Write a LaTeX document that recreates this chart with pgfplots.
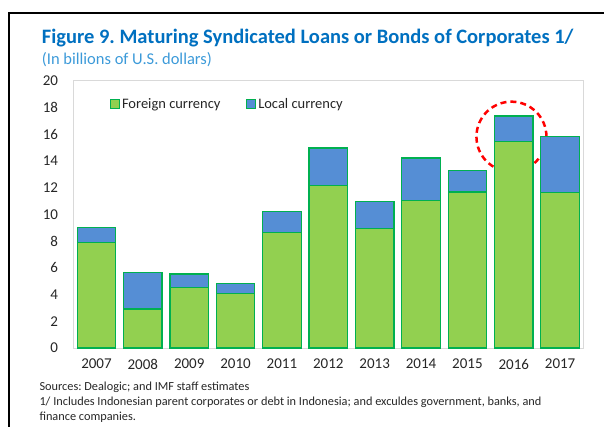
\documentclass[border=0pt]{standalone}
\usepackage{fontspec}
\setmainfont{Carlito}
\usepackage{pgfplots}
\pgfplotsset{compat=1.18}
\definecolor{fgreen}{HTML}{92D050}
\definecolor{edgegreen}{HTML}{00B050}
\definecolor{lblue}{HTML}{558ED5}
\definecolor{titleblue}{HTML}{0070C0}
\definecolor{subblue}{HTML}{3C9AD9}
\definecolor{boxgray}{HTML}{D9D9D9}
\definecolor{txt}{HTML}{262626}
\frenchspacing

\begin{document}
\begin{tikzpicture}
\useasboundingbox (0,0) rectangle (604pt,-427pt);
% frame
\draw[black, line width=2pt] (8.5pt,-430pt) -- (8.5pt,-12.7pt) -- (606pt,-12.7pt);
% titles
\node[anchor=base west, inner sep=0, text=titleblue, font=\fontsize{20.5}{24}\selectfont\bfseries] at (41.7pt,-44pt)
  {Figure 9. Maturing Syndicated Loans or Bonds of Corporates 1/};
\node[anchor=base west, inner sep=0, text=subblue, font=\fontsize{16.5}{19}\selectfont] at (41.7pt,-65pt)
  {(In billions of U.S. dollars)};

\begin{axis}[
    scale only axis,
    width=510pt, height=267pt,
    at={(73.3pt,-348pt)}, anchor=south west,
    ybar stacked,
    bar width=0.83,
    xmin=-0.5, xmax=10.5,
    ymin=0, ymax=20,
    ytick={0,2,...,20},
    xtick={0,...,10},
    xticklabels={2007,2008,2009,2010,2011,2012,2013,2014,2015,2016,2017},
    axis line style={boxgray, line width=1pt},
    major tick length=0pt,
    tick style={draw=none},
    ticklabel style={font=\fontsize{15}{18}\selectfont, text=txt},
    /pgf/number format/assume math mode=true,
    yticklabel style={anchor=east, inner sep=0pt, xshift=-15pt},
    xticklabel style={anchor=north, inner sep=0pt, yshift=-11pt},
    clip=false,
    legend columns=2,
    legend style={draw=none, fill=none, at={(0.072,0.914)}, anchor=west,
        font=\fontsize{14.5}{17}\selectfont, text=txt,
        /tikz/every even column/.append style={column sep=24pt},
        inner sep=0pt},
    legend image code/.code={\draw[#1, line width=0.8pt] (0pt,-4.5pt) rectangle (9pt,4.5pt);},
]
\addplot[fill=fgreen, draw=edgegreen, line width=1.2pt] coordinates {
    (0,7.9) (1,2.92) (2,4.52) (3,4.1) (4,8.67) (5,12.19)
    (6,8.94) (7,11.04) (8,11.69) (9,15.48) (10,11.63)
};
\addlegendentry{Foreign currency}
\addplot[fill=lblue, draw=edgegreen, line width=1.2pt] coordinates {
    (0,1.12) (1,2.75) (2,1.02) (3,0.75) (4,1.54) (5,2.79)
    (6,2.05) (7,3.19) (8,1.59) (9,1.9) (10,4.2)
};
\addlegendentry{Local currency}
\draw[red, line width=2.5pt, dash pattern=on 6pt off 4pt] (axis cs:8.95,15.83) circle[radius=35pt];
\end{axis}

% notes
\node[anchor=base west, inner sep=0, text=txt, font=\fontsize{12.3}{14}\selectfont] at (39.3pt,-390pt)
  {Sources: Dealogic; and IMF staff estimates};
\node[anchor=base west, inner sep=0, text=txt, font=\fontsize{12.3}{14}\selectfont] at (39.3pt,-405pt)
  {1/ Includes Indonesian parent corporates or debt in Indonesia; and exculdes government, banks, and};
\node[anchor=base west, inner sep=0, text=txt, font=\fontsize{12.3}{14}\selectfont] at (39.3pt,-420pt)
  {finance companies.};
\end{tikzpicture}
\end{document}
